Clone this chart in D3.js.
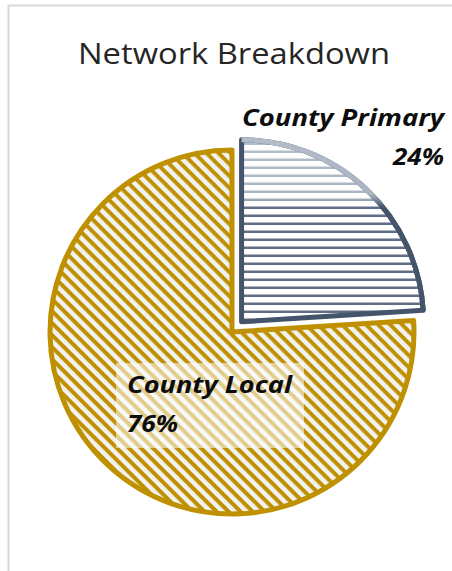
<!DOCTYPE html>
<html>
<head>
<meta charset="utf-8">
<script src="https://cdn.jsdelivr.net/npm/d3@7"></script>
<style>
  html, body { margin: 0; padding: 0; background: #fff; }
  svg { display: block; }
</style>
</head>
<body>
<div id="viz"></div>
<script>

var categories = ["County Primary", "County Local"];
var values = [24, 76];
var labels = ["24%", "76%"];

var width = 452, height = 571;
var cx = 232, cy = 332, radius = 182;
var explode = [14, 0];

var svg = d3.select("#viz")
    .append("svg")
    .attr("width", width)
    .attr("height", height);

var defs = svg.append("defs");

// stripes for county local
var pLocal = defs.append("pattern")
    .attr("id", "stripeLocal")
    .attr("patternUnits", "userSpaceOnUse")
    .attr("width", 8.5)
    .attr("height", 8.5)
    .attr("patternTransform", "rotate(45)");
pLocal.append("rect").attr("width", 8.5).attr("height", 8.5).attr("fill", "#f2f2f2");
pLocal.append("rect").attr("width", 8.5).attr("height", 4).attr("fill", "#bf9000");

// gradient for the primary slice (light at top), local coords of the slice
var grad = defs.append("linearGradient")
    .attr("id", "primGrad")
    .attr("gradientUnits", "userSpaceOnUse")
    .attr("x1", 0).attr("y1", -radius)
    .attr("x2", 0).attr("y2", 0);
grad.append("stop").attr("offset", 0).attr("stop-color", "#b3bcc8");
grad.append("stop").attr("offset", 0.3).attr("stop-color", "#aab4c2");
grad.append("stop").attr("offset", 0.37).attr("stop-color", "#44546a");
grad.append("stop").attr("offset", 1).attr("stop-color", "#44546a");

var gradLines = defs.append("linearGradient")
    .attr("id", "lineGrad")
    .attr("gradientUnits", "userSpaceOnUse")
    .attr("x1", 0).attr("y1", -radius)
    .attr("x2", 0).attr("y2", 0);
gradLines.append("stop").attr("offset", 0).attr("stop-color", "#b6bfcb");
gradLines.append("stop").attr("offset", 0.32).attr("stop-color", "#aab4c2");
gradLines.append("stop").attr("offset", 0.37).attr("stop-color", "#5f6e84");
gradLines.append("stop").attr("offset", 1).attr("stop-color", "#5f6e84");

// chart frame
svg.append("path")
    .attr("d", "M8.5," + height + "V5.5H" + width)
    .attr("fill", "none")
    .attr("stroke", "#d9d9d9")
    .attr("stroke-width", 2);

svg.append("text")
    .attr("x", 234)
    .attr("y", 64)
    .attr("text-anchor", "middle")
    .attr("textLength", 312)
    .attr("lengthAdjust", "spacingAndGlyphs")
    .style("font-family", "'Open Sans', Lato, sans-serif")
    .style("font-size", "29px")
    .style("fill", "#262626")
    .text("Network Breakdown");

var pie = d3.pie().sort(null).value(function(d){ return d; });
var arcs = pie(values);
var arc = d3.arc().innerRadius(0).outerRadius(radius);

var g = svg.append("g").attr("transform", "translate(" + cx + "," + cy + ")");

// local slice first so primary sits on top
var a1 = arcs[1];
g.append("path")
    .attr("d", arc(a1))
    .attr("fill", "url(#stripeLocal)")
    .attr("stroke", "#bf9000")
    .attr("stroke-width", 5)
    .attr("stroke-linejoin", "round");

// exploded primary slice
var a0 = arcs[0];
var mid = (a0.startAngle + a0.endAngle) / 2;
var prim = g.append("g")
    .attr("transform", "translate(" + (Math.sin(mid) * explode[0]) + "," + (-Math.cos(mid) * explode[0]) + ")");

prim.append("clipPath").attr("id", "primClip")
    .append("path").attr("d", arc(a0));

prim.append("path").attr("d", arc(a0)).attr("fill", "#ffffff");

prim.append("g")
    .attr("clip-path", "url(#primClip)")
    .selectAll("line")
    .data(d3.range(-radius + 4, 0, 8))
    .enter()
    .append("line")
    .attr("x1", 0)
    .attr("x2", radius)
    .attr("y1", function(d){ return d; })
    .attr("y2", function(d){ return d; })
    .attr("stroke", "url(#lineGrad)")
    .attr("stroke-width", 2.6);

prim.append("path")
    .attr("d", arc(a0))
    .attr("fill", "none")
    .attr("stroke", "#44546a")
    .attr("stroke-width", 5)
    .attr("stroke-linejoin", "round");

// lighter outer arc on the top part
var outer = d3.path();
outer.arc(0, 0, radius, a0.startAngle - Math.PI / 2, a0.endAngle - Math.PI / 2);
prim.append("path")
    .attr("d", outer.toString())
    .attr("fill", "none")
    .attr("stroke", "url(#primGrad)")
    .attr("stroke-width", 5);

// labels
var font = "'Open Sans', Lato, sans-serif";

svg.append("rect")
    .attr("x", 116)
    .attr("y", 363)
    .attr("width", 188)
    .attr("height", 85)
    .attr("fill", "#ffffff")
    .attr("opacity", 0.55);

var lab = svg.append("g")
    .style("font-family", font)
    .style("font-size", "23px")
    .style("font-weight", "bold")
    .style("font-style", "italic")
    .style("fill", "#0d0d0d");

lab.append("text").attr("x", 444).attr("y", 126).attr("text-anchor", "end")
    .attr("textLength", 202).attr("lengthAdjust", "spacingAndGlyphs").text(categories[0]);
lab.append("text").attr("x", 444).attr("y", 165).attr("text-anchor", "end")
    .attr("textLength", 51).attr("lengthAdjust", "spacingAndGlyphs").text(labels[0]);
lab.append("text").attr("x", 127).attr("y", 393)
    .attr("textLength", 165).attr("lengthAdjust", "spacingAndGlyphs").text(categories[1]);
lab.append("text").attr("x", 127).attr("y", 432)
    .attr("textLength", 51).attr("lengthAdjust", "spacingAndGlyphs").text(labels[1]);

</script>
</body>
</html>
